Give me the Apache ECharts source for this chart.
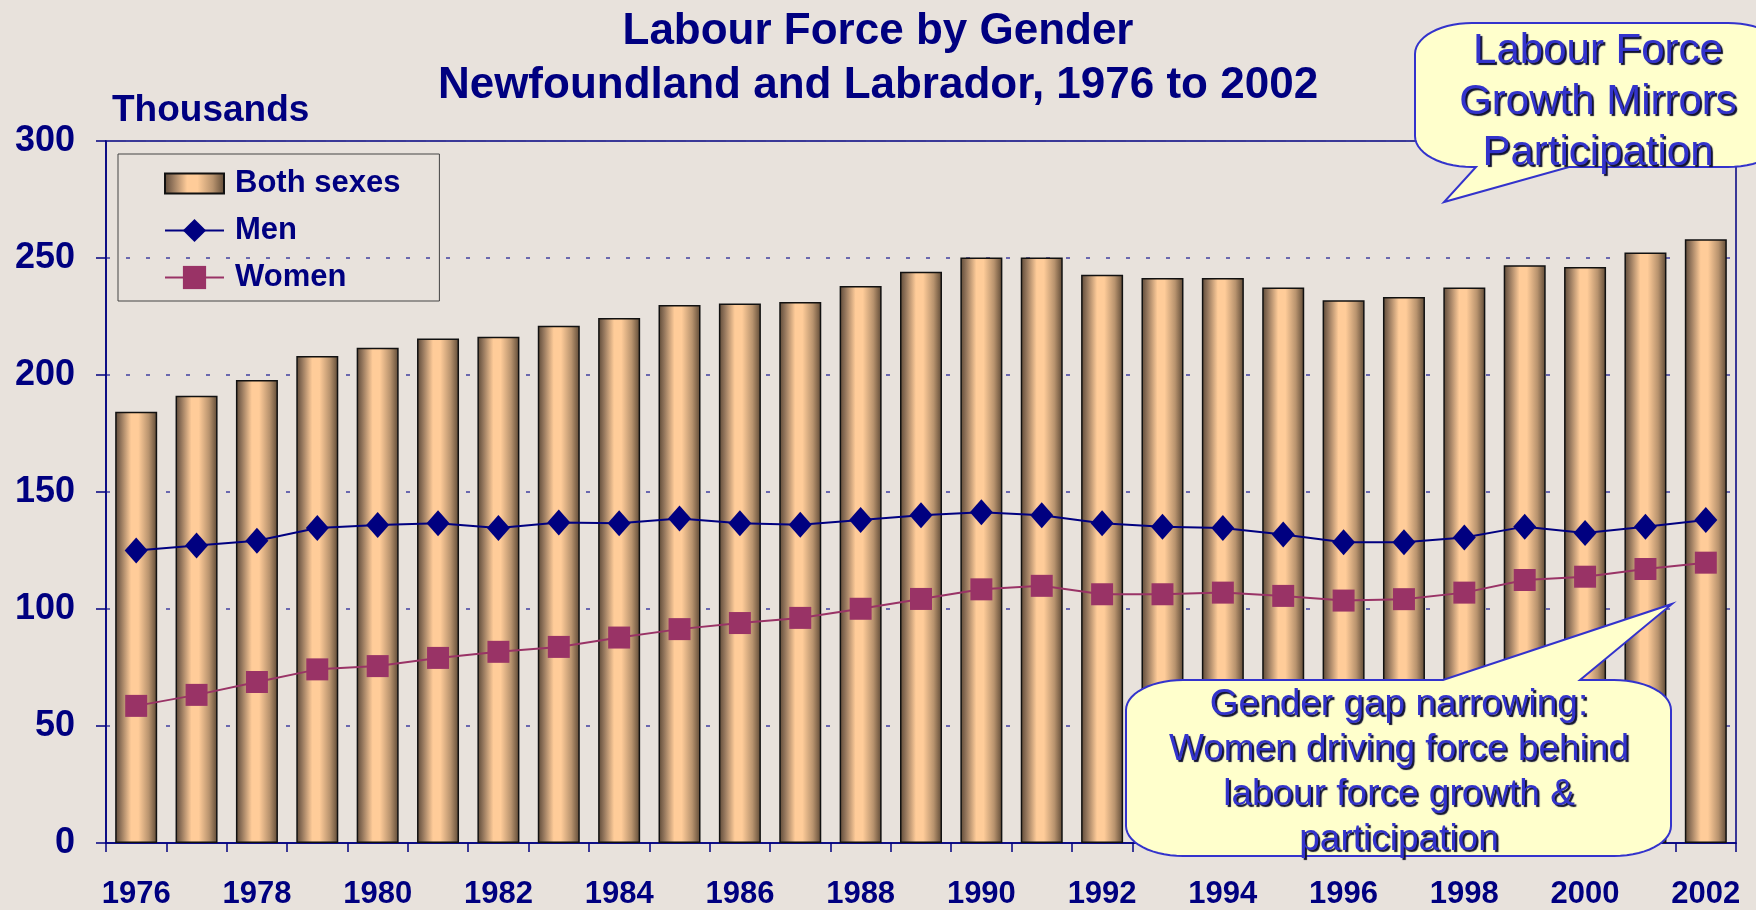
<!DOCTYPE html>
<html><head><meta charset="utf-8">
<script src="https://cdn.jsdelivr.net/npm/echarts@6/dist/echarts.min.js"></script>
<style>html,body{margin:0;padding:0;background:#E8E2DC;}#c{width:1756px;height:910px;}</style>
</head><body><div id="c"></div>
<script>
const years = ['1976','1977','1978','1979','1980','1981','1982','1983','1984','1985','1986','1987','1988','1989','1990','1991','1992','1993','1994','1995','1996','1997','1998','1999','2000','2001','2002'];
const bothSexes = [184.3, 191.1, 197.9, 208.1, 211.6, 215.6, 216.3, 221.0, 224.4, 229.9, 230.6, 231.2, 238.0, 244.1, 250.2, 250.2, 242.8, 241.4, 241.4, 237.4, 231.9, 233.3, 237.4, 246.9, 246.2, 252.3, 258.0];
const men = [125.0, 127.1, 129.2, 134.6, 135.9, 136.6, 134.6, 137.0, 136.6, 138.7, 136.6, 136.0, 138.0, 140.1, 141.3, 140.1, 136.6, 135.2, 134.6, 131.8, 128.5, 128.5, 130.6, 135.2, 132.5, 135.2, 138.0];
const women = [58.6, 63.3, 68.8, 74.2, 75.6, 79.1, 81.7, 83.8, 87.8, 91.4, 94.0, 96.2, 100.1, 104.3, 108.4, 109.9, 106.3, 106.3, 107.0, 105.6, 103.6, 104.2, 107.0, 112.4, 113.8, 117.1, 119.8];
const titleLine1 = 'Labour Force by Gender';
const titleLine2 = 'Newfoundland and Labrador, 1976 to 2002';
const unitLabel = 'Thousands';
const note1 = 'Labour Force\nGrowth Mirrors\nParticipation';
const note2 = 'Gender gap narrowing:\nWomen driving force behind\nlabour force growth &\nparticipation';

const FONT = '"Liberation Sans", Arial, Helvetica, sans-serif';
const NAVY = '#000080';

function calloutPts(L, T, R, B, rx, ry, edge, a, b, tx, ty) {
  const pts = [];
  const arc = (cx, cy, a0, a1) => {
    for (let i = 0; i <= 14; i++) {
      const t = a0 + (a1 - a0) * i / 14;
      pts.push([cx + rx * Math.cos(t), cy + ry * Math.sin(t)]);
    }
  };
  arc(L + rx, T + ry, Math.PI, 1.5 * Math.PI);
  if (edge === 'top') pts.push([a, T], [tx, ty], [b, T]);
  arc(R - rx, T + ry, 1.5 * Math.PI, 2 * Math.PI);
  arc(R - rx, B - ry, 0, 0.5 * Math.PI);
  if (edge === 'bottom') pts.push([b, B], [tx, ty], [a, B]);
  arc(L + rx, B - ry, 0.5 * Math.PI, Math.PI);
  return pts;
}

const barGradient = {
  type: 'linear', x: 0, y: 0, x2: 1, y2: 0,
  colorStops: [
    {offset: 0, color: '#5c4835'},
    {offset: 0.12, color: '#8c7058'},
    {offset: 0.38, color: '#ffcc99'},
    {offset: 0.55, color: '#ffcc99'},
    {offset: 0.8, color: '#b8936e'},
    {offset: 1, color: '#5c4835'}
  ]
};

const noteTextStyle = (txt, size, lh) => ({
  text: txt,
  font: size + 'px ' + FONT,
  fill: '#3333CC',
  align: 'center', verticalAlign: 'middle',
  textAlign: 'center', textVerticalAlign: 'middle',
  lineHeight: lh,
  textShadowColor: '#101030', textShadowOffsetX: 2, textShadowOffsetY: 2, textShadowBlur: 1
});

const chart = echarts.init(document.getElementById('c'), null, {renderer: 'canvas'});
chart.setOption({
  animation: false,
  backgroundColor: '#E8E2DC',
  textStyle: {fontFamily: FONT},
  title: [
    {text: titleLine1, left: 'center', top: 10, padding: 0,
     textStyle: {fontSize: 44, fontWeight: 'bold', color: NAVY, fontFamily: FONT}},
    {text: titleLine2, left: 'center', top: 64, padding: 0,
     textStyle: {fontSize: 44, fontWeight: 'bold', color: NAVY, fontFamily: FONT}},
    {text: unitLabel, left: 112, top: 92, padding: 0,
     textStyle: {fontSize: 37, fontWeight: 'bold', color: NAVY, fontFamily: FONT}}
  ],
  legend: {
    orient: 'vertical', left: 118, top: 154,
    padding: [14, 39, 8, 46], itemGap: 16, itemWidth: 59, itemHeight: 29,
    borderColor: '#444444', borderWidth: 1, backgroundColor: 'transparent',
    textStyle: {fontSize: 31, fontWeight: 'bold', color: NAVY, fontFamily: FONT, padding: [0, 0, 0, 6]},
    data: [
      {name: 'Both sexes', icon: 'path://M0,0L59,0L59,20L0,20Z'},
      'Men', 'Women'
    ]
  },
  grid: {left: 106, right: 20, top: 141, bottom: 62, show: true,
         borderColor: NAVY, borderWidth: 1.5, backgroundColor: 'transparent'},
  xAxis: {
    type: 'category', data: years, boundaryGap: true,
    axisLine: {lineStyle: {color: NAVY, width: 1.5}},
    axisTick: {show: true, interval: 0, length: 9, alignWithLabel: false, lineStyle: {color: NAVY, width: 1.5}},
    axisLabel: {interval: 1, fontSize: 31, fontWeight: 'bold', color: NAVY, margin: 36, fontFamily: FONT},
    splitLine: {show: false}
  },
  yAxis: {
    type: 'value', min: 0, max: 300, interval: 50,
    axisLine: {show: true, lineStyle: {color: NAVY, width: 1.5}},
    axisTick: {show: true, inside: false, length: 10, lineStyle: {color: NAVY, width: 1.5}},
    axisLabel: {fontSize: 36, fontWeight: 'bold', color: NAVY, margin: 31, fontFamily: FONT, padding: [6, 0, 0, 0]},
    splitLine: {show: true, lineStyle: {type: [4, 16], color: '#4040a0', width: 1.5}}
  },
  series: [
    {name: 'Both sexes', type: 'bar', data: bothSexes, barWidth: 42,
     itemStyle: {color: barGradient, borderColor: '#111111', borderWidth: 1.5}, z: 2},
    {name: 'Men', type: 'line', data: men, symbol: 'diamond', symbolSize: [23, 26],
     lineStyle: {color: NAVY, width: 2}, itemStyle: {color: NAVY}, z: 3},
    {name: 'Women', type: 'line', data: women, symbol: 'rect', symbolSize: 22,
     lineStyle: {color: '#993366', width: 2}, itemStyle: {color: '#993366'}, z: 3}
  ],
  graphic: [
    {type: 'polygon', z: 100,
     shape: {points: calloutPts(1415, 23, 1785, 167, 57, 31, 'bottom', 1476, 1569, 1444, 202)},
     style: {fill: '#FFFFCC', stroke: '#3333CC', lineWidth: 2}},
    {type: 'text', z: 101, x: 1598, y: 102, style: noteTextStyle(note1, 42, 51)},
    {type: 'polygon', z: 100,
     shape: {points: calloutPts(1126, 680, 1671, 856, 57, 30, 'top', 1443, 1580, 1672, 604)},
     style: {fill: '#FFFFCC', stroke: '#3333CC', lineWidth: 2}},
    {type: 'text', z: 101, x: 1399, y: 772, style: noteTextStyle(note2, 37, 45)}
  ]
});
</script></body></html>
